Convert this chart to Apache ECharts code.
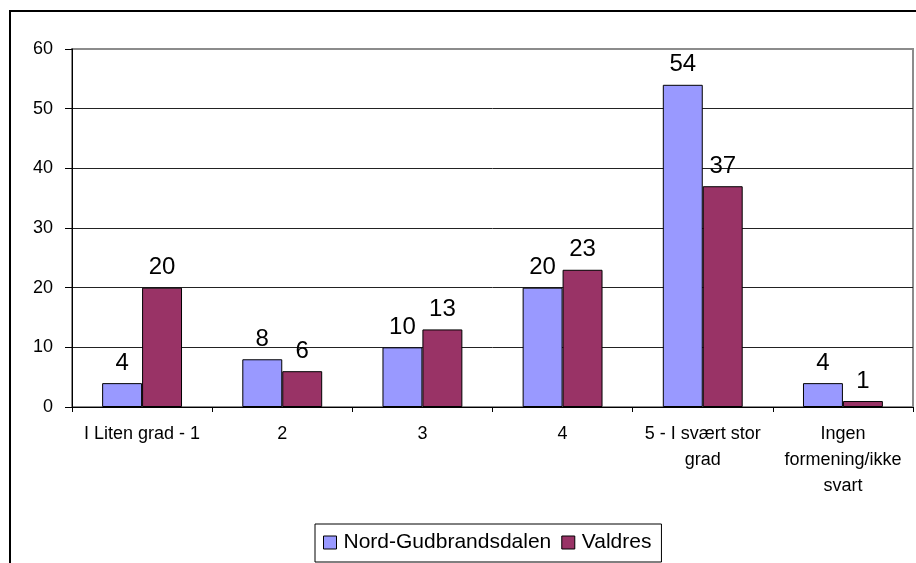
<!DOCTYPE html>
<html>
<head>
<meta charset="utf-8">
<title>Nord-Gudbrandsdalen / Valdres</title>
<style>
  * { margin: 0; padding: 0; }
  html, body { background: #fff; }
  #main { width: 916px; height: 563px; }
</style>
</head>
<body>
<div id="main"></div>
<script src="https://cdn.jsdelivr.net/npm/echarts@6/dist/echarts.min.js"></script>
<script>
var categories = ['I Liten grad - 1', '2', '3', '4', '5 - I svært stor\ngrad', 'Ingen\nformening/ikke\nsvart'];
var seriesNames = ['Nord-Gudbrandsdalen', 'Valdres'];
var nordGudbrandsdalen = [4, 8, 10, 20, 54, 4];
var valdres = [20, 6, 13, 23, 37, 1];
var yTicks = [0, 10, 20, 30, 40, 50, 60];

var myChart = echarts.init(document.getElementById('main'));
var font = 'Liberation Sans, Arial, sans-serif';

// gridlinjer svarte, øverste (60) grå som rammen
var gridColors = yTicks.map(function (v, i) { return i === yTicks.length - 1 ? '#8c8c8c' : '#222'; });

var option = {
  backgroundColor: '#fff',
  animation: false,
  textStyle: { fontFamily: font },
  graphic: [{
    type: 'rect',
    shape: { x: 10, y: 11, width: 930, height: 600 },
    style: { fill: 'none', stroke: '#000', lineWidth: 2 },
    z: 0
  }],
  grid: {
    left: 72, right: 3, top: 49, bottom: 156,
    show: true,
    borderColor: '#8c8c8c',
    borderWidth: 2,
    backgroundColor: 'transparent'
  },
  legend: {
    data: seriesNames,
    left: 315,
    top: 524,
    padding: [8, 10, 9, 8],
    borderColor: '#000',
    borderWidth: 1,
    itemWidth: 13,
    itemHeight: 13,
    itemGap: 10,
    icon: 'rect',
    itemStyle: { borderColor: '#000', borderWidth: 1 },
    textStyle: { fontSize: 21, color: '#000', fontFamily: font, padding: [0, 0, 0, 2] }
  },
  xAxis: {
    type: 'category',
    data: categories,
    axisLine: { lineStyle: { color: '#000', width: 1 } },
    axisTick: { show: true, length: 5, lineStyle: { color: '#000' } },
    axisLabel: { color: '#000', fontSize: 18, lineHeight: 26, margin: 14, interval: 0, fontFamily: font }
  },
  yAxis: {
    type: 'value',
    min: 0, max: 60, interval: 10,
    axisLine: { show: true, lineStyle: { color: '#000', width: 1 } },
    axisTick: { show: true, length: 7, lineStyle: { color: '#000' } },
    axisLabel: { color: '#000', fontSize: 18, margin: 19, fontFamily: font },
    splitLine: { show: true, lineStyle: { color: gridColors, width: 1 } }
  },
  series: [
    {
      name: seriesNames[0],
      type: 'bar',
      data: nordGudbrandsdalen,
      barGap: '0%',
      barCategoryGap: '43%',
      itemStyle: { color: '#9999ff', borderColor: '#000', borderWidth: 1 },
      label: { show: true, position: 'top', distance: 8, fontSize: 24, color: '#000', fontFamily: font }
    },
    {
      name: seriesNames[1],
      type: 'bar',
      data: valdres,
      barGap: '0%',
      barCategoryGap: '43%',
      itemStyle: { color: '#993366', borderColor: '#000', borderWidth: 1 },
      label: { show: true, position: 'top', distance: 8, fontSize: 24, color: '#000', fontFamily: font }
    }
  ]
};
myChart.setOption(option);
</script>
</body>
</html>
